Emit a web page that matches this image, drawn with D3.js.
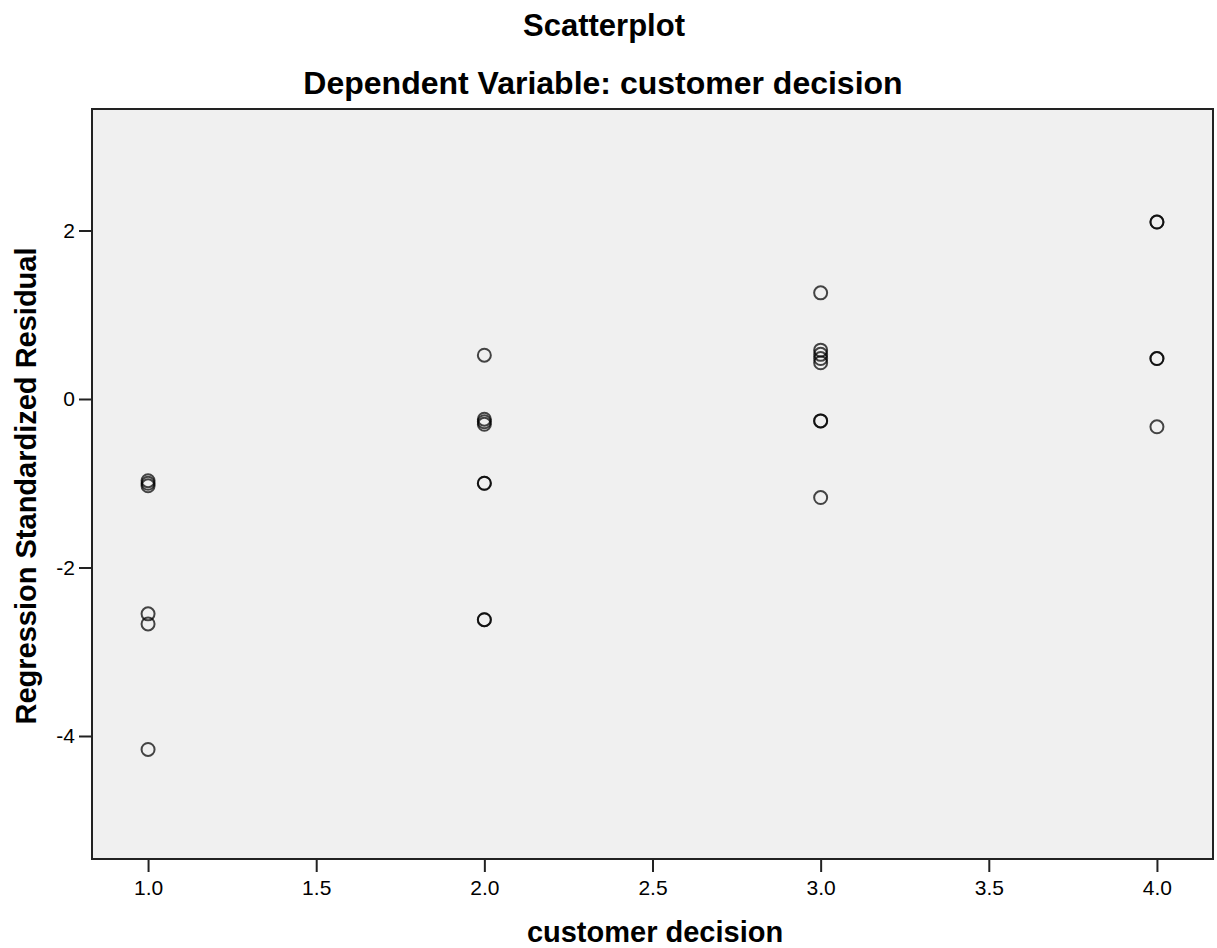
<!DOCTYPE html>
<html lang="en">
<head>
  <meta charset="UTF-8">
  <title>Scatterplot</title>
  <script src="https://cdn.jsdelivr.net/npm/d3@7/dist/d3.min.js"></script>
  <style>
    body { margin: 0; background: #fff; }
    text { font-family: "Liberation Sans", Arial, sans-serif; fill: #000; }
  </style>
</head>
<body>
<script>
  // data
  const xValues = [1, 1, 1, 1, 1, 1,
    2, 2, 2, 2, 2, 2, 2, 2,
    3, 3, 3, 3, 3, 3, 3, 3,
    4, 4, 4, 4, 4];
  const residuals = [-0.97, -1.0, -1.03, -2.55, -2.67, -4.16,
    0.52, -0.24, -0.27, -0.30, -1.0, -1.0, -2.62, -2.62,
    1.26, 0.58, 0.53, 0.48, 0.43, -0.26, -0.26, -1.17,
    2.1, 2.1, 0.48, 0.48, -0.33];
  const xTicks = [1.0, 1.5, 2.0, 2.5, 3.0, 3.5, 4.0];
  const yTicks = [-4, -2, 0, 2];

  const width = 1217, height = 948;
  const plot = { left: 92, top: 109, right: 1213, bottom: 859 };

  const svg = d3.select("body").append("svg")
    .attr("width", width)
    .attr("height", height);

  const x = d3.scaleLinear().domain([0.8333, 4.1667]).range([plot.left, plot.right]);
  const y = d3.scaleLinear().domain([-5.46, 3.442]).range([plot.bottom, plot.top]);

  // plot background
  svg.append("rect")
    .attr("x", plot.left).attr("y", plot.top)
    .attr("width", plot.right - plot.left)
    .attr("height", plot.bottom - plot.top)
    .attr("fill", "#f0f0f0");

  // axes
  const xAxis = svg.append("g")
    .attr("transform", "translate(0," + plot.bottom + ")")
    .call(d3.axisBottom(x).tickValues(xTicks).tickFormat(d3.format(".1f")).tickSize(13).tickSizeOuter(0));
  const yAxis = svg.append("g")
    .attr("transform", "translate(" + plot.left + ",0)")
    .call(d3.axisLeft(y).tickValues(yTicks).tickFormat(d3.format("d")).tickSize(13).tickSizeOuter(0));

  [xAxis, yAxis].forEach(a => {
    a.select(".domain").remove();
    a.selectAll(".tick line").attr("stroke", "#222").attr("stroke-width", 2);
    a.selectAll(".tick text").style("font-size", "21px").attr("fill", "#222");
  });
  xAxis.selectAll(".tick text").attr("dy", "0.95em");
  yAxis.selectAll(".tick text").attr("x", -17).text(d => d < 0 ? "-" + Math.abs(d) : d);

  // frame
  svg.append("rect")
    .attr("x", plot.left).attr("y", plot.top)
    .attr("width", plot.right - plot.left)
    .attr("height", plot.bottom - plot.top)
    .attr("fill", "none")
    .attr("stroke", "#222")
    .attr("stroke-width", 2);

  // points
  svg.append("g")
    .selectAll("circle")
    .data(xValues.map((v, i) => ({ x: v, y: residuals[i] })))
    .enter()
    .append("circle")
    .attr("cx", d => x(d.x))
    .attr("cy", d => y(d.y))
    .attr("r", 6.5)
    .attr("fill", "none")
    .attr("stroke", "#000")
    .attr("stroke-opacity", 0.72)
    .attr("stroke-width", 2);

  // titles
  svg.append("text")
    .attr("x", 604).attr("y", 36)
    .attr("text-anchor", "middle")
    .style("font-size", "31px").style("font-weight", "bold")
    .text("Scatterplot");
  svg.append("text")
    .attr("x", 603).attr("y", 94)
    .attr("text-anchor", "middle")
    .style("font-size", "32px").style("font-weight", "bold")
    .text("Dependent Variable: customer decision");
  svg.append("text")
    .attr("x", 655).attr("y", 942)
    .attr("text-anchor", "middle")
    .style("font-size", "29px").style("font-weight", "bold")
    .text("customer decision");
  svg.append("text")
    .attr("transform", "translate(36,486) rotate(-90)")
    .attr("text-anchor", "middle")
    .style("font-size", "29px").style("font-weight", "bold")
    .text("Regression Standardized Residual");
</script>
</body>
</html>
